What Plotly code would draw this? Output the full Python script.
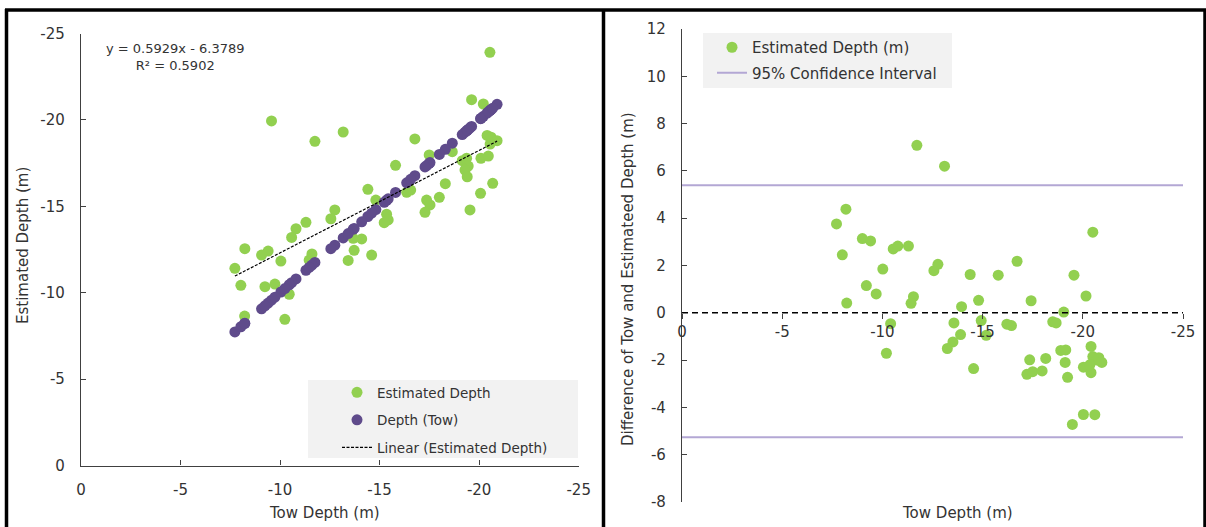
import plotly.graph_objects as go

# ---------------- data ----------------
tow_depth = [-20.54, -9.57, -11.75, -13.17, -16.77, -19.62, -20.21, -20.40, -20.60, -20.90,
             -20.55, -17.49, -18.65, -19.15, -19.45, -19.37, -20.09, -20.46, -19.29, -19.40,
             -15.80, -18.30, -20.68, -20.07, -14.41, -16.36, -16.56, -18.00, -17.36, -17.53,
             -17.28, -19.54, -14.81, -15.35, -15.43, -15.23, -12.75, -12.55, -11.30, -10.80,
             -10.58, -8.23, -9.40, -9.07, -10.04, -7.73, -11.60, -11.46, -13.67, -14.10,
             -13.72, -13.42, -14.60, -8.03, -9.24, -9.74, -10.46, -8.22, -10.24]
estimated_depth = [-23.91, -19.94, -18.76, -19.30, -18.90, -21.17, -20.92, -19.10, -19.00, -18.80,
                   -18.60, -17.97, -18.16, -17.64, -17.33, -17.78, -17.78, -17.91, -17.10, -16.71,
                   -17.37, -16.31, -16.33, -15.75, -15.98, -15.81, -15.94, -15.52, -15.36, -15.08,
                   -14.65, -14.79, -15.36, -14.54, -14.21, -14.05, -14.79, -14.28, -14.07, -13.70,
                   -13.20, -12.55, -12.41, -12.18, -11.83, -11.41, -12.24, -11.89, -13.15, -13.11,
                   -12.45, -11.87, -12.18, -10.43, -10.35, -10.50, -9.91, -8.65, -8.46]

trend_slope = 0.5929
trend_intercept = -6.3789
trend_r2 = 0.5902

tow_depth_r = [-11.72, -13.10, -8.18, -7.71, -20.50, -9.00, -9.41, -10.54, -10.77, -11.30,
               -8.00, -16.72, -12.77, -12.57, -10.02, -14.38, -15.78, -19.56, -9.20, -9.69,
               -20.16, -11.55, -11.43, -8.22, -14.80, -17.42, -13.95, -19.05, -10.41, -13.57,
               -14.93, -16.21, -16.44, -18.50, -18.67, -13.90, -15.18, -13.52, -13.24, -10.20,
               -14.55, -18.90, -19.15, -20.41, -17.35, -18.15, -19.12, -17.21, -17.50, -17.97,
               -19.24, -20.03, -20.41, -20.50, -20.70, -20.80, -20.95, -20.35, -19.48, -20.03,
               -20.60]
difference = [7.08, 6.20, 4.38, 3.76, 3.41, 3.14, 3.04, 2.70, 2.82, 2.82,
              2.45, 2.18, 2.05, 1.78, 1.85, 1.62, 1.59, 1.59, 1.15, 0.80,
              0.71, 0.68, 0.40, 0.41, 0.53, 0.51, 0.26, 0.03, -0.46, -0.43,
              -0.33, -0.48, -0.54, -0.38, -0.43, -0.92, -0.95, -1.23, -1.51, -1.71,
              -2.36, -1.59, -1.57, -1.42, -1.99, -1.93, -2.10, -2.60, -2.49, -2.46,
              -2.73, -2.30, -2.53, -1.85, -2.00, -1.90, -2.10, -2.20, -4.72, -4.30,
              -4.31]
ci_upper = 5.39
ci_lower = -5.26

x_ticks = [0, -5, -10, -15, -20, -25]
y_ticks_left = [0, -5, -10, -15, -20, -25]
y_ticks_right = [12, 10, 8, 6, 4, 2, 0, -2, -4, -6, -8]

def labels(vals):
    return [str(v) for v in vals]

# ---------------- styling ----------------
W, H = 1206, 527
ML, MR, MT, MB = 81, 23, 29, 25
PW, PH = W - ML - MR, H - MT - MB

def px(p):
    return (p - ML) / PW

def py(p):
    return (H - MB - p) / PH

GREEN = "#92d050"
PURPLE = "#5f4b8b"
LAV = "#b3a7d4"
AX = "#404040"
FONT = "DejaVu Sans"
TXT = "#333333"

fig = go.Figure()

# left panel
fig.add_trace(go.Scatter(x=tow_depth, y=estimated_depth, mode="markers", name="Estimated Depth",
                         marker=dict(color=GREEN, size=11), xaxis="x", yaxis="y",
                         legend="legend", legendgroup="a"))
fig.add_trace(go.Scatter(x=tow_depth, y=tow_depth, mode="markers", name="Depth (Tow)",
                         marker=dict(color=PURPLE, size=11), xaxis="x", yaxis="y",
                         legend="legend", legendgroup="b"))
tx = [max(tow_depth), min(tow_depth)]
ty = [trend_slope * v + trend_intercept for v in tx]
fig.add_trace(go.Scatter(x=tx, y=ty, mode="lines", name="Linear (Estimated Depth)",
                         line=dict(color="black", width=1.2, dash="3px,1.5px"),
                         xaxis="x", yaxis="y", legend="legend", legendgroup="c"))

# right panel
fig.add_trace(go.Scatter(x=[x_ticks[0], x_ticks[-1], None, x_ticks[0], x_ticks[-1]],
                         y=[ci_upper, ci_upper, None, ci_lower, ci_lower],
                         mode="lines", name="95% Confidence Interval",
                         line=dict(color=LAV, width=2), xaxis="x2", yaxis="y2",
                         legend="legend2", legendgroup="e", legendrank=2))
fig.add_trace(go.Scatter(x=tow_depth_r, y=difference, mode="markers", name="Estimated Depth (m)",
                         marker=dict(color=GREEN, size=11), xaxis="x2", yaxis="y2",
                         legend="legend2", legendgroup="d", legendrank=1))

axis_common = dict(showgrid=False, zeroline=False, showline=True, linecolor=AX, linewidth=1.3,
                   ticks="inside", ticklen=5, tickcolor=AX, tickwidth=1.3,
                   tickfont=dict(family=FONT, size=15, color=TXT))

fig.update_layout(
    width=W, height=H,
    margin=dict(l=ML, r=MR, t=MT, b=MB),
    paper_bgcolor="white", plot_bgcolor="rgba(0,0,0,0)",
    font=dict(family=FONT, color=TXT),
    xaxis=dict(domain=[0, px(578.7)], range=[0, -25], tickvals=x_ticks, ticktext=labels(x_ticks),
               anchor="y", ticklabelstandoff=10, **axis_common),
    yaxis=dict(domain=[py(465.5), py(33.5)], range=[0, -25], tickvals=y_ticks_left,
               ticktext=labels(y_ticks_left), anchor="x", ticklabelstandoff=12, **axis_common),
    xaxis2=dict(domain=[px(682), 1], range=[0, -25], tickvals=x_ticks, ticktext=labels(x_ticks),
                anchor="free", position=0.4, **{**axis_common, "showline": False, "ticks": "outside"}),
    yaxis2=dict(domain=[0, 1], range=[-8, 12], tickvals=y_ticks_right, ticktext=labels(y_ticks_right),
                anchor="x2", ticklabelstandoff=12, **axis_common),
    legend=dict(x=px(337), y=py(377), xanchor="left", yanchor="top", bgcolor="rgba(0,0,0,0)",
                font=dict(family=FONT, size=13.5, color=TXT), tracegroupgap=7),
    legend2=dict(x=px(712), y=py(31), xanchor="left", yanchor="top", bgcolor="rgba(0,0,0,0)",
                 font=dict(family=FONT, size=15, color=TXT), tracegroupgap=3),
)

shapes = []
# legend boxes
shapes.append(dict(type="rect", xref="paper", yref="paper", x0=px(308), x1=px(578), y0=py(458), y1=py(380),
                   fillcolor="#f2f2f2", line=dict(width=0), layer="below"))
shapes.append(dict(type="rect", xref="paper", yref="paper", x0=px(703), x1=px(952), y0=py(88), y1=py(33),
                   fillcolor="#f2f2f2", line=dict(width=0), layer="below"))
# dashed zero line on right panel
shapes.append(dict(type="line", xref="x2 domain", yref="y2", x0=0, x1=1, y0=0, y1=0,
                   line=dict(color="black", width=1.5, dash="6px,4px")))
# frame borders
for (x0, y0, x1, y1) in [(5, 10, 1206, 10), (6.5, 9, 6.5, 527), (603.5, 9, 603.5, 527), (1205, 9, 1205, 527)]:
    shapes.append(dict(type="line", xref="paper", yref="paper", x0=px(x0), x1=px(x1), y0=py(y0), y1=py(y1),
                       line=dict(color="black", width=3.5)))
fig.update_layout(shapes=shapes)

def note(text, x, y, size=15, angle=0):
    return dict(text=text, x=px(x), y=py(y), xref="paper", yref="paper", showarrow=False,
                xanchor="center", yanchor="middle", textangle=angle, align="center",
                font=dict(family=FONT, size=size, color=TXT))

annotations = [
    note(f"y = {trend_slope}x - {abs(trend_intercept)}<br>R² = {trend_r2}", 175, 57, size=13),
    note("Tow Depth (m)", 324.5, 513),
    note("Tow Depth (m)", 957, 513),
    note("Estimated Depth (m)", 23, 246, angle=-90),
    note("Difference of Tow and Estimateed Depth (m)", 628, 279, angle=-90),
]
fig.update_layout(annotations=annotations)

fig.write_html("out.html")
